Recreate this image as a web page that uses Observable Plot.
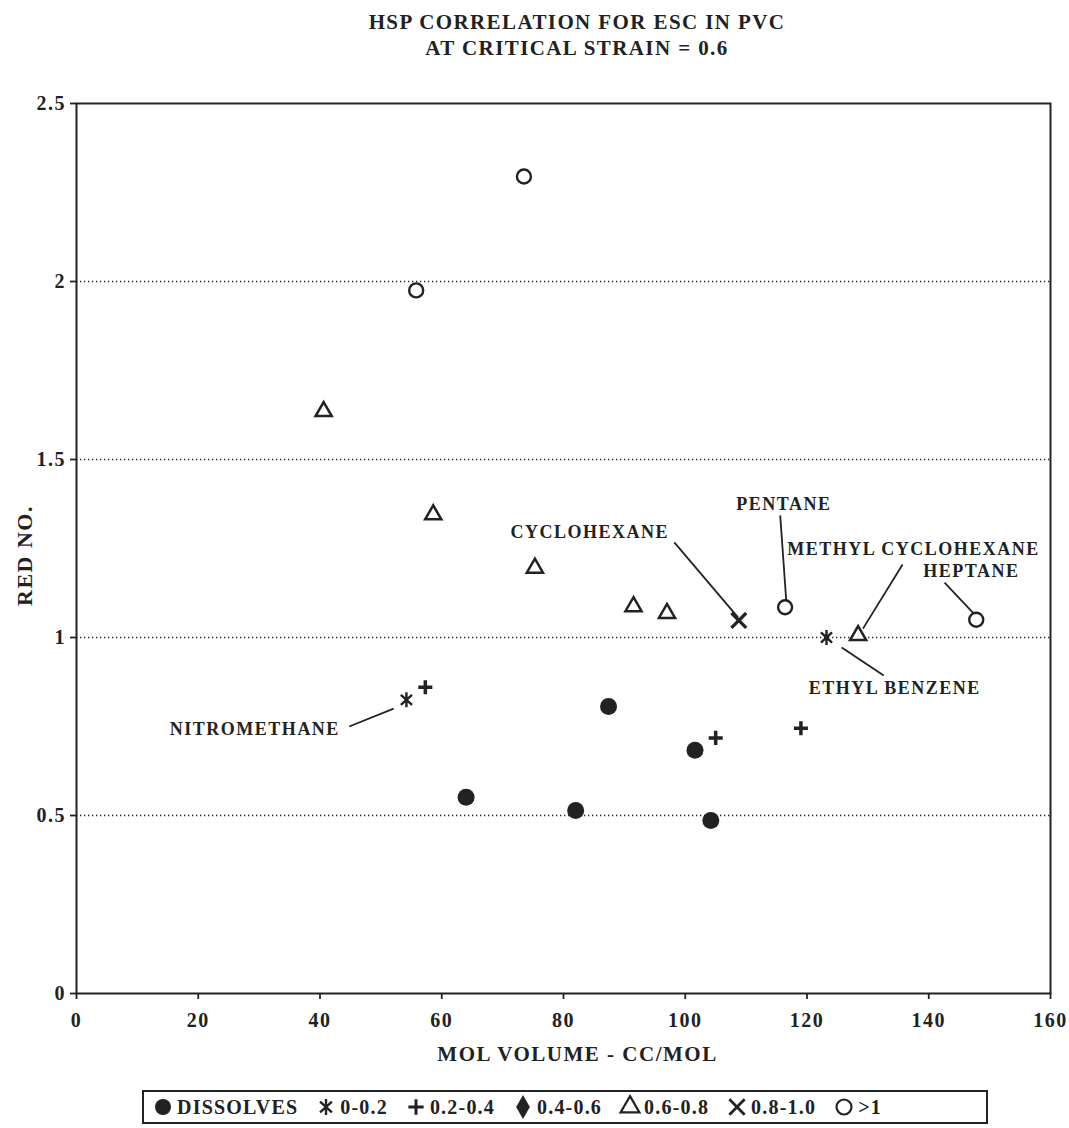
<!DOCTYPE html>
<html><head><meta charset="utf-8">
<script src="https://cdn.jsdelivr.net/npm/d3@7"></script>
<script src="https://cdn.jsdelivr.net/npm/@observablehq/plot@0.6"></script>
<style>
html,body{margin:0;padding:0;background:#fff;overflow:hidden;}
body{width:1069px;height:1128px;position:relative;font-family:"Liberation Serif",serif;font-weight:bold;color:#222;}
#title{position:absolute;top:9px;left:0;width:1069px;box-sizing:border-box;padding-left:85px;text-align:center;font-size:21px;line-height:26px;letter-spacing:1.4px;}
#chart{position:absolute;top:0;left:0;}
#legend{position:absolute;left:142px;top:1090px;width:846px;height:34px;box-sizing:border-box;border:2px solid #222;display:flex;align-items:center;padding-left:10px;font-size:20px;letter-spacing:1.2px;white-space:nowrap;}
.li{display:inline-flex;align-items:center;margin-right:19px;}
.li svg{margin-right:5px;}
</style></head><body>
<div id="chart"></div>
<div id="title">HSP CORRELATION FOR ESC IN PVC<br>AT CRITICAL STRAIN = 0.6</div>
<div id="legend"></div>
<script>
// ---- data (mol volume cc/mol, RED number) ----
const dissolvesVol = [64.0, 82.0, 87.4, 101.6, 104.2];
const dissolvesRed = [0.551, 0.514, 0.806, 0.683, 0.486];
const r0_02Vol = [54.2, 123.2];
const r0_02Red = [0.825, 1.0];
const r02_04Vol = [57.3, 105.0, 119.0];
const r02_04Red = [0.860, 0.718, 0.745];
const r06_08Vol = [40.6, 58.6, 75.3, 91.5, 97.0, 128.4];
const r06_08Red = [1.635, 1.345, 1.195, 1.087, 1.068, 1.006];
const r08_10Vol = [108.8];
const r08_10Red = [1.048];
const gt1Vol = [73.5, 55.8, 116.4, 147.8];
const gt1Red = [2.295, 1.975, 1.085, 1.050];

const xTicks = [0, 20, 40, 60, 80, 100, 120, 140, 160];
const yTicks = [0, 0.5, 1, 1.5, 2, 2.5];
const gridValues = [0.5, 1, 1.5, 2];

const annoLabel = ["CYCLOHEXANE", "PENTANE", "METHYL CYCLOHEXANE", "HEPTANE", "ETHYL BENZENE", "NITROMETHANE"];
const annoVol = [84.3, 116.2, 137.5, 147.0, 134.4, 29.3];
const annoRed = [1.295, 1.374, 1.247, 1.185, 0.857, 0.742];
const leadVol1 = [98.2, 115.6, 135.7, 142.6, 125.7, 44.8];
const leadRed1 = [1.267, 1.343, 1.205, 1.154, 0.972, 0.750];
const leadVol2 = [108.7, 116.6, 129.2, 147.4, 132.6, 52.1];
const leadRed2 = [1.056, 1.101, 1.025, 1.067, 0.893, 0.800];

const legendLabels = ["DISSOLVES", "0-0.2", "0.2-0.4", "0.4-0.6", "0.6-0.8", "0.8-1.0", ">1"];

const xLabel = "MOL VOLUME - CC/MOL";
const yLabel = "RED NO.";

// ---- build ----
const pts = (vs, rs) => vs.map((v, i) => ({v, r: rs[i]}));
const asteriskSym = {
  draw(ctx, size) {
    const r = Math.sqrt(size / Math.PI);
    const a = 48 * Math.PI / 180;
    const dx = r * Math.sin(a), dy = r * Math.cos(a);
    ctx.moveTo(0, -r); ctx.lineTo(0, r);
    ctx.moveTo(-dx, -dy); ctx.lineTo(dx, dy);
    ctx.moveTo(dx, -dy); ctx.lineTo(-dx, dy);
  }
};
const ink = "#222";
const annos = annoLabel.map((t, i) => ({t, v: annoVol[i], r: annoRed[i], v1: leadVol1[i], r1: leadRed1[i], v2: leadVol2[i], r2: leadRed2[i]}));

const chart = Plot.plot({
  width: 1069,
  height: 1075,
  marginTop: 103,
  marginBottom: 82,
  marginLeft: 76,
  marginRight: 19,
  style: {fontFamily: "Liberation Serif", fontSize: "20px", fontWeight: "bold", color: ink, background: "transparent", letterSpacing: "1.5px", overflow: "visible"},
  x: {domain: [0, 160]},
  y: {domain: [0, 2.5]},
  marks: [
    Plot.ruleY(gridValues, {stroke: ink, strokeWidth: 1.3, strokeDasharray: "1.3,2.7"}),
    Plot.axisX({ticks: xTicks, tickSize: 6, tickPadding: 13, tickFormat: d => String(d), label: null, strokeWidth: 1.8}),
    Plot.axisY({ticks: yTicks, tickSize: 6, tickPadding: 4.5, tickFormat: d => String(d), label: null, strokeWidth: 1.8}),
    Plot.frame({stroke: ink, strokeWidth: 2}),
    Plot.text([xLabel], {frameAnchor: "bottom", text: d => d, dy: 67, dx: 14, fontSize: 21, letterSpacing: 2.2}),
    Plot.text([yLabel], {frameAnchor: "left", textAnchor: "middle", text: d => d, rotate: -90, dx: -52, dy: 7, fontSize: 22, letterSpacing: 2.4}),
    Plot.link(annos, {x1: "v1", y1: "r1", x2: "v2", y2: "r2", stroke: ink, strokeWidth: 1.8}),
    Plot.text(annos, {x: "v", y: "r", text: "t", fontSize: 18, letterSpacing: 1.3}),
    Plot.dot(pts(dissolvesVol, dissolvesRed), {x: "v", y: "r", symbol: "circle", r: 8.5, fill: ink, stroke: "none"}),
    Plot.dot(pts(r0_02Vol, r0_02Red), {x: "v", y: "r", symbol: asteriskSym, r: 7.5, fill: "none", stroke: ink, strokeWidth: 2.4}),
    Plot.dot(pts(r02_04Vol, r02_04Red), {x: "v", y: "r", symbol: "plus", r: 4.6, fill: "none", stroke: ink, strokeWidth: 3.5, strokeLinecap: "butt"}),
    Plot.dot(pts(r06_08Vol, r06_08Red), {x: "v", y: "r", symbol: "triangle", r: 6, fill: "white", stroke: ink, strokeWidth: 2.5, strokeLinejoin: "miter"}),
    Plot.dot(pts(r08_10Vol, r08_10Red), {x: "v", y: "r", symbol: "times", r: 6.8, fill: "none", stroke: ink, strokeWidth: 3.2, strokeLinecap: "butt"}),
    Plot.dot(pts(gt1Vol, gt1Red), {x: "v", y: "r", symbol: "circle", r: 7, fill: "white", stroke: ink, strokeWidth: 2.4})
  ]
});
document.getElementById("chart").appendChild(chart);

// ---- legend ----
const legendSyms = [
  {type: d3.symbolCircle, size: Math.PI * 64, fill: ink, stroke: "none", sw: 0},
  {type: asteriskSym, size: Math.PI * 64, fill: "none", stroke: ink, sw: 2.4},
  {type: d3.symbolPlus, size: Math.PI * 25, fill: "none", stroke: ink, sw: 3},
  {type: d3.symbolDiamond, size: Math.PI * 52, fill: ink, stroke: "none", sw: 0},
  {type: d3.symbolTriangle, size: Math.PI * 49, fill: "white", stroke: ink, sw: 2.2},
  {type: d3.symbolTimes, size: Math.PI * 49, fill: "none", stroke: ink, sw: 2.8},
  {type: d3.symbolCircle, size: Math.PI * 56, fill: "white", stroke: ink, sw: 2.2}
];
const leg = document.getElementById("legend");
legendLabels.forEach((lab, i) => {
  const s = legendSyms[i];
  const span = document.createElement("span");
  span.className = "li";
  const path = d3.symbol().type(s.type).size(s.size)();
  span.innerHTML = `<svg width="18" height="18" viewBox="-9 -9 18 18" style="overflow:visible"><path d="${path}" fill="${s.fill}" stroke="${s.stroke}" stroke-width="${s.sw}"/></svg><span>${lab.replace(">", "&gt;")}</span>`;
  leg.appendChild(span);
});
</script>
</body></html>
